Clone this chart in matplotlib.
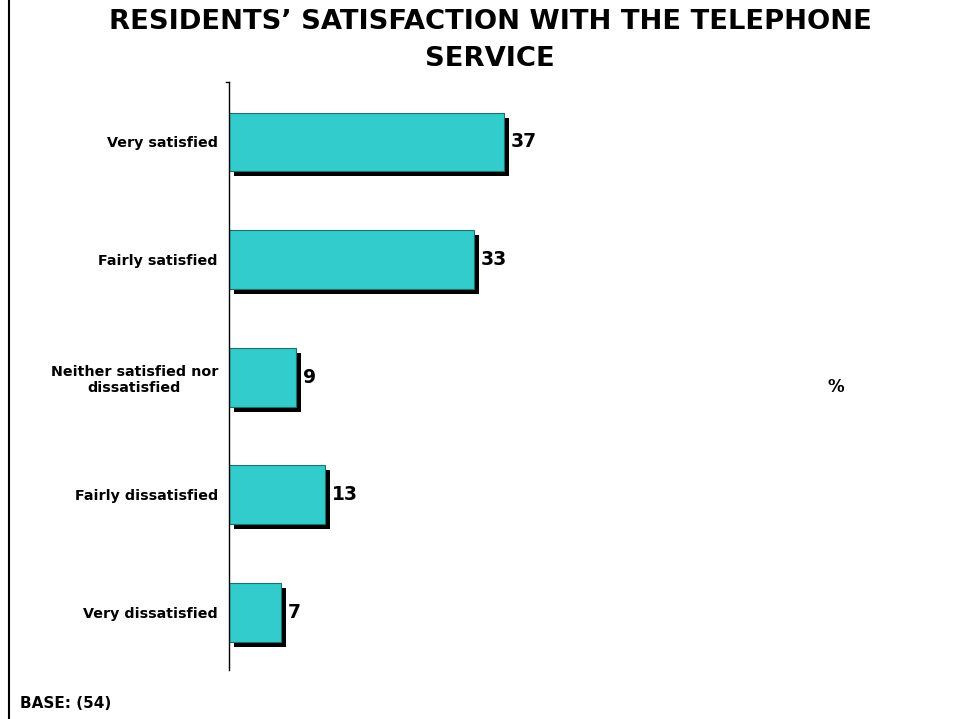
import matplotlib.pyplot as plt
import matplotlib.patheffects as pe
from matplotlib.lines import Line2D

categories = ['Very satisfied', 'Fairly satisfied', 'Neither satisfied nor\ndissatisfied',
              'Fairly dissatisfied', 'Very dissatisfied']
values = [37, 33, 9, 13, 7]

plt.rcParams['font.family'] = 'DejaVu Sans'

fig = plt.figure(figsize=(9.62, 7.19), dpi=100)
ax = fig.add_axes([229/962, 49/719, 668/962, 588/719])

ypos = list(range(len(values)))
bars = ax.barh(ypos, values, height=0.5, color='#33CCCC', edgecolor='#1f6f6f', linewidth=0.8)
for b in bars:
    b.set_path_effects([pe.SimplePatchShadow(offset=(3.6, -3.6), shadow_rgbFace='black', alpha=1),
                        pe.Normal()])

for y, v in zip(ypos, values):
    ax.annotate(str(v), (v, y), xytext=(5, 0), textcoords='offset points',
                ha='left', va='center', fontsize=13.5, fontweight='bold')

ax.set_xlim(0, 90)
ax.set_ylim(4.49, -0.51)
ax.set_yticks(ypos)
ax.set_yticklabels(categories, fontsize=10.3, fontweight='bold', multialignment='center')
ax.tick_params(axis='y', length=0, pad=8)
ax.set_xticks([])
for s in ['top', 'right', 'bottom']:
    ax.spines[s].set_visible(False)
ax.spines['left'].set_linewidth(1)
# small tick mark at the top of the axis line
ax.plot([-0.4, 0], [-0.51, -0.51], color='black', linewidth=1, clip_on=False)

fig.text(490/962, 1 - 22/719, 'RESIDENTS\u2019 SATISFACTION WITH THE TELEPHONE', ha='center', va='center',
         fontsize=19.7, fontweight='bold')
fig.text(490/962, 1 - 59/719, 'SERVICE', ha='center', va='center', fontsize=19.7, fontweight='bold')
fig.text(836/962, 1 - 387/719, '%', ha='center', va='center', fontsize=12, fontweight='bold')
fig.text(20/962, 1 - 703/719, 'BASE: (54)', ha='left', va='center', fontsize=11, fontweight='bold')

fig.add_artist(Line2D([9/962, 9/962], [0, 1], color='black', linewidth=1.5))

fig.savefig('out.png', dpi=100)
